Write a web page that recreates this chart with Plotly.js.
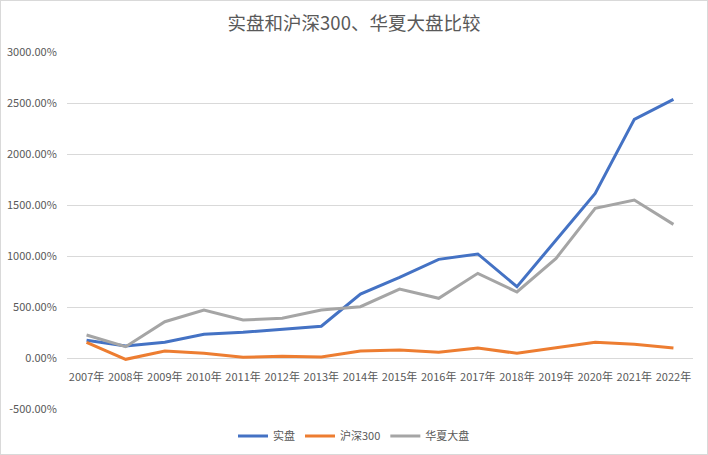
<!DOCTYPE html>
<html>
<head>
<meta charset="utf-8">
<script src="https://cdn.plot.ly/plotly-3.0.1.min.js"></script>
<style>
html,body{margin:0;padding:0;background:#fff;}
#chart{width:708px;height:455px;box-sizing:border-box;border:1px solid #D9D9D9;}
</style>
</head>
<body>
<div id="chart"></div>
<script>
const years = ["2007年","2008年","2009年","2010年","2011年","2012年","2013年","2014年","2015年","2016年","2017年","2018年","2019年","2020年","2021年","2022年"];
const shipan = [175,118,154,232,252,281,311,627,791,967,1020,699,1157,1614,2340,2536];
const hs300 = [154,-13,69,46,7,16,10,69,78,56,98,46,101,154,134,98];
const huaxia = [225,111,356,471,373,389,471,503,676,585,830,647,977,1467,1549,1310];
const yTickVals = [-500,0,500,1000,1500,2000,2500,3000];
const yTickText = ["-500.00%","0.00%","500.00%","1000.00%","1500.00%","2000.00%","2500.00%","3000.00%"];

const font = "'Noto Sans CJK SC', 'Noto Sans', sans-serif";
const traces = [
  {x: years, y: shipan, name: "实盘", type: "scatter", mode: "lines", line: {color: "#4472C4", width: 3}},
  {x: years, y: hs300, name: "沪深300", type: "scatter", mode: "lines", line: {color: "#ED7D31", width: 3}},
  {x: years, y: huaxia, name: "华夏大盘", type: "scatter", mode: "lines", line: {color: "#A5A5A5", width: 3}}
];
const yMin = -500, yMax = 3000;
const layout = {
  width: 706, height: 453,
  margin: {l: 66, r: 14, t: 51, b: 45},
  paper_bgcolor: "#fff", plot_bgcolor: "#fff",
  font: {family: font, color: "#595959", size: 11},
  title: {text: "实盘和沪深300、华夏大盘比较", font: {family: font, size: 18.5, color: "#595959"}, x: 0.5, xanchor: "center", y: 0.95, yanchor: "middle"},
  xaxis: {
    type: "category", anchor: "free", position: (0 - yMin) / (yMax - yMin),
    range: [-0.5, years.length - 0.5],
    showgrid: false, showline: false, zeroline: false,
    ticks: "outside", ticklen: 9, tickcolor: "rgba(0,0,0,0)",
    tickfont: {size: 11, color: "#595959"}, tickangle: 0, automargin: false
  },
  yaxis: {
    range: [yMin, yMax], tickvals: yTickVals, ticktext: yTickText,
    showgrid: true, gridcolor: "#D9D9D9", gridwidth: 1,
    zeroline: true, zerolinecolor: "#D9D9D9", zerolinewidth: 1,
    showline: false, ticks: "outside", ticklen: 7, tickcolor: "rgba(0,0,0,0)",
    tickfont: {size: 11, color: "#595959"}, automargin: false
  },
  showlegend: true,
  legend: {orientation: "h", x: 0.5, xanchor: "center", xref: "container", y: 0.04, yanchor: "middle", yref: "container", font: {size: 11, color: "#595959"}, itemwidth: 30, tracegroupgap: 0},
  hovermode: false
};
Plotly.newPlot("chart", traces, layout, {staticPlot: true, displayModeBar: false});
</script>
</body>
</html>
